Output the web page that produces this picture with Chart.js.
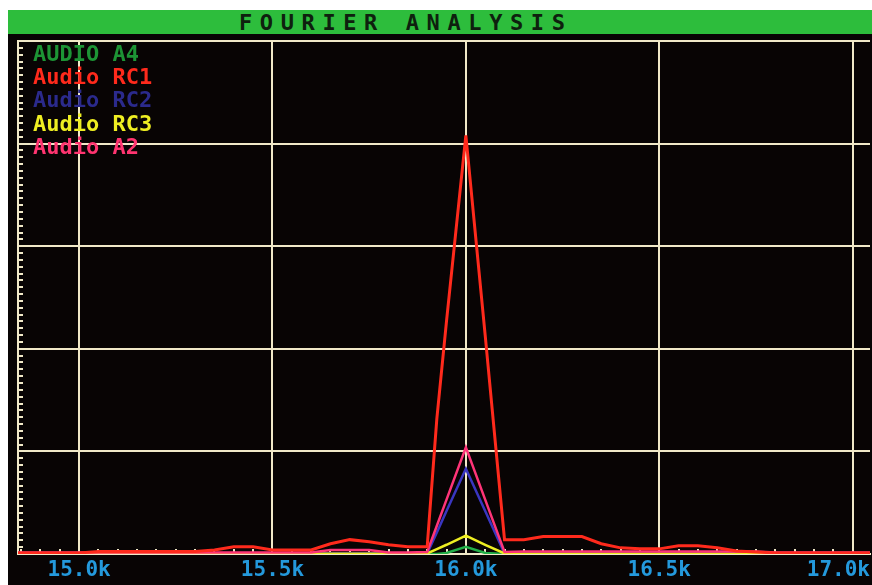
<!DOCTYPE html>
<html lang="en">
<head>
    <meta charset="UTF-8">
    <title>Fourier Analysis</title>
    <style>
        body {
            margin: 0;
            background: #fff;
            width: 872px;
            height: 585px;
            overflow: hidden;
            position: relative;
        }
        .titlebar {
            position: absolute;
            left: 8px;
            top: 10px;
            width: 864px;
            height: 25px;
            background: #2dbd3c;
        }
        .titlebar span {
            position: absolute;
            left: 231px;
            top: 1px;
            font-family: "DejaVu Sans Mono", monospace;
            font-weight: bold;
            font-size: 22px;
            line-height: 24px;
            letter-spacing: 7.6px;
            color: #0e200e;
        }
        .panel {
            position: absolute;
            left: 8px;
            top: 34px;
            width: 864px;
            height: 551px;
            background: #080404;
        }
        canvas { display: block; }
    </style>
</head>
<body>
    <div class="titlebar"><span>FOURIER ANALYSIS</span></div>
    <div class="panel">
        <canvas id="fft" width="864" height="550"></canvas>
    </div>

    <script src="https://cdn.jsdelivr.net/npm/chart.js"></script>
    <script>
        // frequency bins in kHz (extra bin at 15.925 for the steep foot of RC1)
        const freqKHz = [14.80, 14.85, 14.90, 14.95, 15.00, 15.05, 15.10, 15.15, 15.20, 15.25,
                         15.30, 15.35, 15.40, 15.45, 15.50, 15.55, 15.60, 15.65, 15.70, 15.75,
                         15.80, 15.85, 15.90, 15.925, 15.95, 16.00, 16.05, 16.10, 16.15, 16.20,
                         16.25, 16.30, 16.35, 16.40, 16.45, 16.50, 16.55, 16.60, 16.65, 16.70,
                         16.75, 16.80, 16.85, 16.90, 16.95, 17.00, 17.05];

        const audioA4 = [0, 0, 0, 0, 0, 0, 0, 0, 0, 0,
                         0, 0, 0, 0, 0, 0, 0, 0, 0, 0,
                         0, 0, 0, 0, 0.01, 0.07, 0.01, 0, 0, 0,
                         0, 0, 0, 0, 0, 0, 0, 0, 0, 0,
                         0, 0, 0, 0, 0, 0, 0];
        const audioRC1 = [0.01, 0.01, 0.01, 0.01, 0.01, 0.025, 0.025, 0.025, 0.025, 0.025,
                          0.025, 0.04, 0.07, 0.07, 0.04, 0.04, 0.04, 0.10, 0.14, 0.12,
                          0.09, 0.07, 0.07, 1.32, 2.27, 4.08, 2.13, 0.14, 0.14, 0.17,
                          0.17, 0.17, 0.10, 0.06, 0.05, 0.05, 0.08, 0.08, 0.06, 0.03,
                          0.02, 0.01, 0.01, 0.01, 0.01, 0.01, 0.01];
        const audioRC2 = [0.005, 0.005, 0.005, 0.005, 0.005, 0.005, 0.005, 0.005, 0.005, 0.005,
                          0.005, 0.005, 0.005, 0.005, 0.005, 0.005, 0.005, 0.005, 0.005, 0.005,
                          0.005, 0.005, 0.005, 0.21, 0.42, 0.83, 0.42, 0.005, 0.005, 0.005,
                          0.005, 0.005, 0.005, 0.005, 0.005, 0.005, 0.005, 0.005, 0.005, 0.005,
                          0.005, 0.005, 0.005, 0.005, 0.005, 0.005, 0.005];
        const audioRC3 = [0.003, 0.003, 0.003, 0.003, 0.003, 0.003, 0.003, 0.003, 0.003, 0.003,
                          0.003, 0.003, 0.003, 0.003, 0.003, 0.003, 0.003, 0.003, 0.003, 0.003,
                          0.003, 0.003, 0.005, 0.048, 0.09, 0.18, 0.09, 0.005, 0.003, 0.003,
                          0.003, 0.003, 0.003, 0.003, 0.003, 0.003, 0.003, 0.003, 0.003, 0.003,
                          0.003, 0.003, 0.003, 0.003, 0.003, 0.003, 0.003];
        const audioA2 = [0.015, 0.015, 0.015, 0.015, 0.015, 0.015, 0.015, 0.015, 0.015, 0.015,
                         0.015, 0.015, 0.015, 0.015, 0.015, 0.015, 0.015, 0.04, 0.04, 0.04,
                         0.015, 0.015, 0.02, 0.275, 0.53, 1.04, 0.53, 0.02, 0.025, 0.025,
                         0.025, 0.025, 0.025, 0.025, 0.025, 0.025, 0.025, 0.025, 0.025, 0.025,
                         0.025, 0.015, 0.015, 0.015, 0.015, 0.015, 0.015];

        const seriesNames = ['AUDIO A4', 'Audio RC1', 'Audio RC2', 'Audio RC3', 'Audio A2'];
        const xTicksKHz = [15.0, 15.5, 16.0, 16.5, 17.0];

        const gridColor = '#f1e9c8';
        const labelColor = '#2499dc';
        const minorPerMajorY = 15;
        const minorStepX = 0.05;

        const toPoints = vals => freqKHz.map((f, i) => ({ x: f, y: vals[i] }));

        const series = [
            { vals: audioA4,  line: '#22b048', text: '#1d9435', order: 4, width: 2.5 },
            { vals: audioRC1, line: '#ff2a1c', text: '#ff2a1c', order: 0, width: 3 },
            { vals: audioRC2, line: '#3a36c0', text: '#2b2a8c', order: 3, width: 2.5 },
            { vals: audioRC3, line: '#eeee22', text: '#eeee22', order: 2, width: 2.5 },
            { vals: audioA2,  line: '#ff3478', text: '#ff3470', order: 1, width: 2.5 }
        ];

        const overlay = {
            id: 'overlay',
            beforeDatasetsDraw(chart) {
                const { ctx, chartArea: a, scales: { x, y } } = chart;
                ctx.save();
                ctx.fillStyle = gridColor;
                // minor ticks on the left edge
                for (let i = 0; i <= 5 * minorPerMajorY; i++) {
                    const py = Math.round(y.getPixelForValue(i / minorPerMajorY));
                    ctx.fillRect(a.left - 1, py - 1, 6, 2);
                }
                // small minor marks along the bottom
                for (let k = Math.ceil(x.min / minorStepX); k * minorStepX <= x.max; k++) {
                    const px = Math.round(x.getPixelForValue(k * minorStepX));
                    ctx.fillRect(px - 1, a.bottom - 5, 2, 3);
                }
                ctx.restore();
            },
            afterDraw(chart) {
                const { ctx, chartArea: a, scales: { x } } = chart;
                ctx.save();
                // legend, top-left inside the plot
                ctx.font = 'bold 22px "DejaVu Sans Mono"';
                ctx.textBaseline = 'middle';
                ctx.textAlign = 'left';
                chart.data.datasets.forEach((ds, i) => {
                    ctx.fillStyle = series[i].text;
                    ctx.fillText(ds.label, 25, 21 + i * 23.3);
                });
                // x tick labels
                ctx.font = 'bold 21px "DejaVu Sans Mono"';
                ctx.fillStyle = labelColor;
                xTicksKHz.forEach(v => {
                    const txt = v.toFixed(1) + 'k';
                    const w = ctx.measureText(txt).width;
                    let left = x.getPixelForValue(v) - w / 2;
                    left = Math.min(left, chart.width - w - 2);
                    ctx.fillText(txt, left, a.bottom + 17);
                });
                ctx.restore();
            }
        };

        new Chart(document.getElementById('fft'), {
            type: 'line',
            data: {
                datasets: series.map((s, i) => ({
                    label: seriesNames[i],
                    data: toPoints(s.vals),
                    borderColor: s.line,
                    borderWidth: s.width,
                    pointRadius: 0,
                    tension: 0,
                    order: s.order
                }))
            },
            options: {
                responsive: false,
                animation: false,
                devicePixelRatio: 1,
                layout: { padding: { left: 10, top: 7, right: 2, bottom: 30 } },
                plugins: {
                    legend: { display: false },
                    tooltip: { enabled: false },
                    title: { display: false }
                },
                scales: {
                    x: {
                        type: 'linear',
                        min: 14.842,
                        max: 17.045,
                        afterBuildTicks: s => { s.ticks = xTicksKHz.map(v => ({ value: v })); },
                        ticks: { display: false },
                        grid: { color: gridColor, lineWidth: 2, drawTicks: false },
                        border: { display: true, color: gridColor, width: 2 }
                    },
                    y: {
                        min: 0,
                        max: 5,
                        ticks: { display: false, stepSize: 1 },
                        grid: { color: gridColor, lineWidth: 2, drawTicks: false },
                        border: { display: true, color: gridColor, width: 2 }
                    }
                }
            },
            plugins: [overlay]
        });
    </script>
</body>
</html>
